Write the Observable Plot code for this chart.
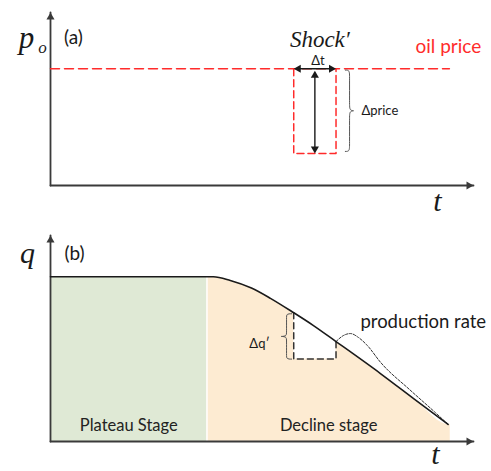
<!DOCTYPE html>
<html>
<head>
<meta charset="utf-8">
<script src="https://cdn.jsdelivr.net/npm/d3@7"></script>
<script src="https://cdn.jsdelivr.net/npm/@observablehq/plot@0.6"></script>
<style>
  body { margin: 0; background: #fff; }
  #chart svg { display: block; }
</style>
</head>
<body>
<div id="chart"></div>
<script>
// ---------- data (abstract units) ----------
const timeRange = [0, 10];
const priceRange = [0, 10];
const rateRange = [0, 10];

// (a) oil price with a temporary shock
const oilPriceLevel = 6.75;
const oilPriceEnd = 9.43;
const shockWindow = [5.75, 6.75];   // start / end of the shock (Δt)
const shockPriceLow = 1.85;         // price during the shock

// (b) production rate: plateau then decline
const plateauEnd = 3.7;
const productionT = [0, 3.7, 3.85, 4.25, 4.75, 5.2, 5.75, 6.2, 6.75, 7.8, 8.6, 9.4];
const productionQ = [8, 8, 8, 7.82, 7.45, 6.95, 6.25, 5.65, 4.85, 3.3, 2.06, 0.83];
const fieldEnd = 9.45;              // right edge of the decline area
const deferredLow = 4.0;            // bottom of the deferred-production box (Δq′)

// production rate after the shock ends
const responseT = [6.75, 6.93, 7.09, 7.28, 7.49, 7.8, 8.5, 9.1, 9.4];
const responseQ = [4.85, 5.15, 5.24, 5.05, 4.66, 3.85, 2.5, 1.4, 0.83];

// text
const panelLabels = ["(a)", "(b)"];
const priceSeriesLabel = "oil price";
const rateSeriesLabel = "production rate";
const stageLabels = ["Plateau Stage", "Decline stage"];

// ---------- helpers ----------
const production = productionT.map((t, i) => ({t, q: productionQ[i]}));
const response = responseT.map((t, i) => ({t, q: responseQ[i]}));

const RED = "#ff2b2b";
const AXIS = "#3a3a3a";
const INK = "#1a1a1a";
const SANS = "Lato, 'Open Sans', sans-serif";
const SERIF = "'Liberation Serif', 'DejaVu Serif', serif";

// filled triangular arrow heads; the tip sits on the given point
const TIP = 4.67; // distance from triangle centre to tip for r = 3
function head(points, dir, fill = INK) {
  const o = {
    up: {rotate: 0, dx: 0, dy: TIP},
    down: {rotate: 180, dx: 0, dy: -TIP},
    right: {rotate: 90, dx: -TIP, dy: 0},
    left: {rotate: -90, dx: TIP, dy: 0}
  }[dir];
  return Plot.dot(points, {x: d => d[0], y: d => d[1], symbol: "triangle", r: 3, fill, stroke: "none", ...o});
}

// curly brace between yTop and yBot; ends at x0, spine at xm, tip towards x1
function brace(x0, xm, x1, yTop, yBot) {
  const ym = (yTop + yBot) / 2, k = (yTop - yBot) * 0.08;
  return [[x0, yTop], [xm, yTop], [xm, yTop - k], [xm, ym + k], [xm, ym],
          [x1, ym], [xm, ym], [xm, ym - k], [xm, yBot + k], [xm, yBot], [x0, yBot]];
}

function label(x, y, text, opts) {
  return Plot.text([{x, y, text}], {x: "x", y: "y", text: "text", ...opts});
}

function panel(height, marginTop, marginBottom, yDomain, marks) {
  return Plot.plot({
    width: 491, height, marginLeft: 50, marginRight: 18, marginTop, marginBottom,
    x: {domain: timeRange, axis: null},
    y: {domain: yDomain, axis: null},
    style: {background: "white", overflow: "visible"},
    marks
  });
}

// ---------- (a) oil price ----------
const [s0, s1] = shockWindow;
const sMid = (s0 + s1) / 2;
const pMid = (oilPriceLevel + shockPriceLow) / 2;

const panelA = panel(232, 12, 47, priceRange, [
  // axes
  Plot.line([[0, 0], [0, priceRange[1]]], {stroke: AXIS, strokeWidth: 1.8}),
  Plot.line([[0, 0], [timeRange[1], 0]], {stroke: AXIS, strokeWidth: 1.8}),
  head([[0, priceRange[1]]], "up", AXIS),
  head([[timeRange[1], 0]], "right", AXIS),
  // price line and shock window
  Plot.line([[0, oilPriceLevel], [oilPriceEnd, oilPriceLevel]],
    {stroke: RED, strokeWidth: 1.5, strokeDasharray: "9,5"}),
  Plot.line([[s0, oilPriceLevel], [s0, shockPriceLow], [s1, shockPriceLow], [s1, oilPriceLevel]],
    {stroke: RED, strokeWidth: 1.5, strokeDasharray: "7,4"}),
  // Δt double arrow
  Plot.line([[s0 + 0.15, oilPriceLevel], [s1 - 0.15, oilPriceLevel]], {stroke: INK, strokeWidth: 1.6}),
  head([[s0, oilPriceLevel]], "left"),
  head([[s1, oilPriceLevel]], "right"),
  // Δprice double arrow
  Plot.line([[sMid, oilPriceLevel - 0.35], [sMid, shockPriceLow + 0.2]], {stroke: INK, strokeWidth: 1.4}),
  head([[sMid, oilPriceLevel - 0.12]], "up"),
  head([[sMid, shockPriceLow]], "down"),
  // brace
  Plot.line(brace(s1 + 0.22, s1 + 0.32, s1 + 0.46, oilPriceLevel - 0.08, shockPriceLow + 0.12),
    {curve: "basis", stroke: "#555", strokeWidth: 1}),
  // text
  label(0, priceRange[1], "p", {dx: -24, dy: 26, fontFamily: SERIF, fontStyle: "italic", fontSize: 31, fill: INK}),
  label(0, priceRange[1], "o", {dx: -8, dy: 35, fontFamily: SERIF, fontStyle: "italic", fontSize: 17, fill: INK}),
  label(0, priceRange[1], panelLabels[0], {dx: 23, dy: 25, fontFamily: SANS, fontSize: 19, fill: INK}),
  label(oilPriceEnd, oilPriceLevel, priceSeriesLabel, {dx: -1, dy: -22, fontFamily: SANS, fontSize: 19, fill: RED}),
  label(sMid, oilPriceLevel, "Shock\u2032", {dx: 5, dy: -29, fontFamily: SERIF, fontStyle: "italic", fontSize: 23, fill: INK}),
  label(sMid, oilPriceLevel, "\u0394t", {dx: 3, dy: -8, fontFamily: SANS, fontSize: 13, fill: INK}),
  label(s1 + 0.6, pMid, "\u0394price", {textAnchor: "start", dy: 0, fontFamily: SANS, fontSize: 13, fill: INK}),
  label(timeRange[1], 0, "t", {dx: -36, dy: 16, fontFamily: SERIF, fontStyle: "italic", fontSize: 30, fill: INK})
]);

// ---------- (b) production rate ----------
const last = production[production.length - 1];
const plateau = production.filter(d => d.t <= plateauEnd);
const decline = production.filter(d => d.t >= plateauEnd).concat([{t: fieldEnd, q: last.q}]);
const deferred = production.filter(d => d.t >= s0 && d.t <= s1);
const qAt = t => production.find(d => d.t === t).q;
const qTop = qAt(s0), qKnot = qAt(s1);
const peak = response.reduce((a, b) => (b.q > a.q ? b : a));

const panelB = panel(239, 3, 30, rateRange, [
  Plot.areaY(plateau, {x: "t", y: "q", fill: "#dfe9d5"}),
  Plot.areaY(decline, {x: "t", y: "q", fill: "#fdebd2", curve: "monotone-x"}),
  Plot.ruleX([plateauEnd], {y1: 0, y2: productionQ[0], stroke: "white", strokeWidth: 1.4}),
  Plot.areaY(deferred, {x: "t", y1: deferredLow, y2: "q", fill: "white", curve: "monotone-x"}),
  // axes
  Plot.line([[0, 0], [0, rateRange[1]]], {stroke: AXIS, strokeWidth: 1.8}),
  Plot.line([[0, 0], [timeRange[1], 0]], {stroke: AXIS, strokeWidth: 1.8}),
  head([[0, rateRange[1]]], "up", AXIS),
  head([[timeRange[1], 0]], "right", AXIS),
  // deferred production box
  Plot.line([[s0, qTop], [s0, deferredLow], [s1, deferredLow], [s1, qKnot]],
    {stroke: "#333", strokeWidth: 1.5, strokeDasharray: "6,4"}),
  // rate curves
  Plot.line(response, {x: "t", y: "q", curve: "monotone-x", stroke: "#333", strokeWidth: 1, strokeDasharray: "2.5,1.5"}),
  Plot.line(production, {x: "t", y: "q", curve: "monotone-x", stroke: INK, strokeWidth: 1.6}),
  // brace
  Plot.line(brace(s0 - 0.05, s0 - 0.17, s0 - 0.36, qTop - 0.05, deferredLow),
    {curve: "basis", stroke: "#555", strokeWidth: 1}),
  // text
  label(0, rateRange[1], "q", {dx: -23, dy: 18, fontFamily: SERIF, fontStyle: "italic", fontSize: 30, fill: INK}),
  label(0, rateRange[1], panelLabels[1], {dx: 24, dy: 18, fontFamily: SANS, fontSize: 19, fill: INK}),
  label(plateauEnd / 2, 0, stageLabels[0], {dy: -16, fontFamily: SANS, fontSize: 16.5, fill: "#222"}),
  label((plateauEnd + fieldEnd) / 2, 0, stageLabels[1], {dy: -16, fontFamily: SANS, fontSize: 16.5, fill: "#222"}),
  label(peak.t, peak.q, rateSeriesLabel, {textAnchor: "start", dx: 10, dy: -11, fontFamily: SANS, fontSize: 18.5, fill: INK}),
  label(s0 - 0.36, (qTop + deferredLow) / 2, "\u0394q\u2032", {dx: -19, dy: 8, fontFamily: SANS, fontSize: 13, fill: INK}),
  label(timeRange[1], 0, "t", {dx: -38, dy: 13, fontFamily: SERIF, fontStyle: "italic", fontSize: 30, fill: INK})
]);

const root = document.getElementById("chart");
root.append(panelA, panelB);
</script>
</body>
</html>
